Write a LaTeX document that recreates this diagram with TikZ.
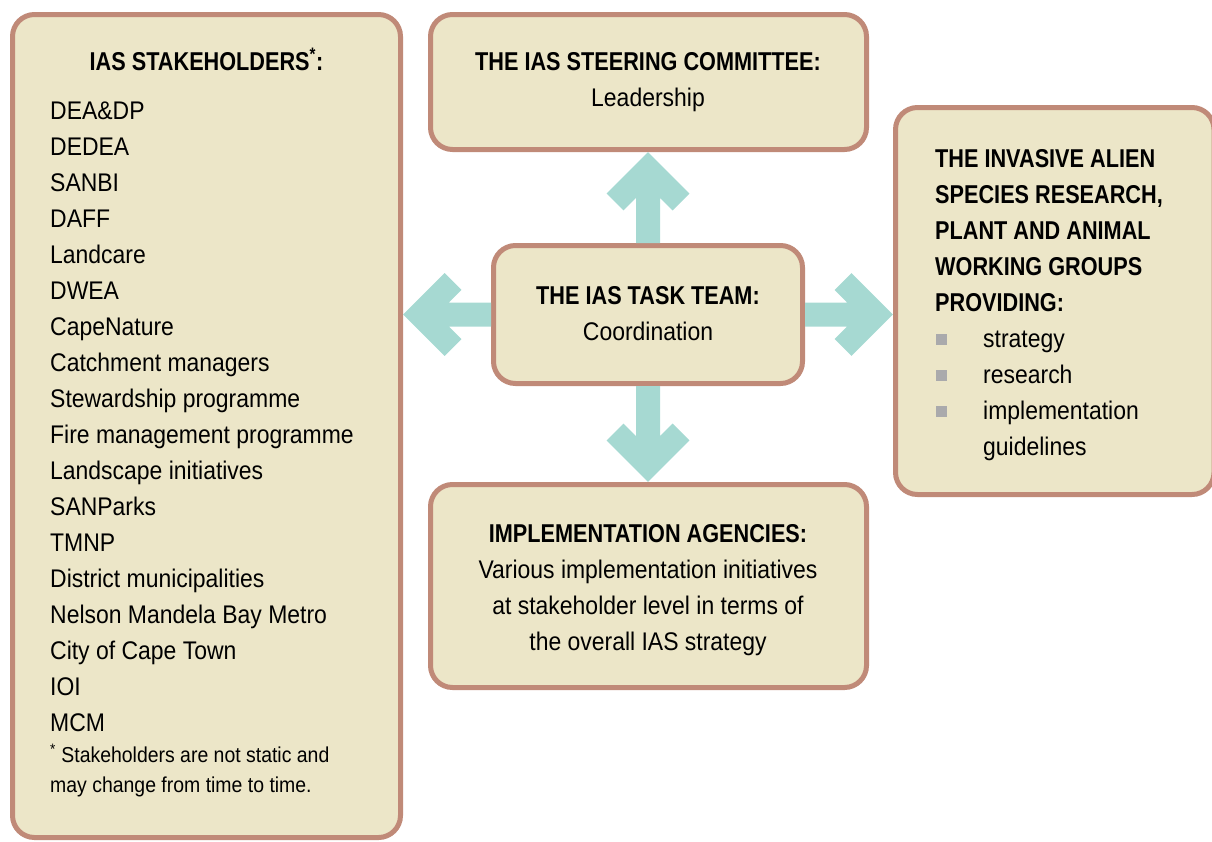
\documentclass[tikz,border=0pt]{standalone}
\usepackage{fontspec}
\setmainfont{Liberation Sans}[FakeStretch=0.9, BoldFeatures={FakeStretch=0.84}]
\usetikzlibrary{calc}
\definecolor{boxfill}{RGB}{236,230,200}
\definecolor{boxline}{RGB}{192,138,120}
\definecolor{flowteal}{RGB}{166,217,210}
\definecolor{bulletgray}{RGB}{170,170,172}
\tikzset{
  panel/.style={
    draw=boxline, fill=boxfill, line width=5pt,
    rounded corners=22pt, inner sep=0pt
  },
  txt/.style={
    font=\fontsize{25.5}{30}\selectfont,
    inner sep=0pt, anchor=base west
  },
  mid/.style={
    font=\fontsize{25.5}{30}\selectfont,
    inner sep=0pt, anchor=base
  },
  head/.style={
    font=\fontsize{25.8}{30}\selectfont\bfseries,
    inner sep=0pt, anchor=base
  },
  note/.style={
    font=\fontsize{21.6}{26}\selectfont,
    inner sep=0pt, anchor=base west
  },
  bulletsq/.style={fill=bulletgray, minimum size=11pt, inner sep=0pt},
  flow/.style={
    draw=flowteal, line width=24pt, line join=miter,
    to path={(\tikztostart) -- ($(\tikztotarget)!17pt!(\tikztostart)$)
      ($(\tikztotarget)!50pt!(\tikztostart)!33pt!90:(\tikztostart)$)
      -- ($(\tikztotarget)!17pt!(\tikztostart)$)
      -- ($(\tikztotarget)!50pt!(\tikztostart)!33pt!-90:(\tikztostart)$)}
  }
}

\begin{document}
\begin{tikzpicture}[x=1pt, y=-1pt]
    \useasboundingbox (0,0) rectangle (1212,841);

    % the five boxes
    \node[panel, minimum width=388pt, minimum height=823pt] (stake) at (206.5,426) {};
    \node[panel, minimum width=436pt, minimum height=135pt] (steer) at (648.5,82) {};
    \node[panel, minimum width=309pt, minimum height=138pt] (task) at (648,314.5) {};
    \node[panel, minimum width=436pt, minimum height=203pt] (impl) at (648.5,586) {};
    \node[panel, minimum width=318.5pt, minimum height=387pt] (groups) at (1054.75,301) {};

    % stakeholders
    \node[head] (stakeT) at (206.5,70) {IAS STAKEHOLDERS\textsuperscript{*}:};
    \foreach \org [count=\k] in {DEA\&DP, DEDEA, SANBI, DAFF, Landcare, DWEA,
        CapeNature, Catchment managers, Stewardship programme,
        Fire management programme, Landscape initiatives, SANParks, TMNP,
        District municipalities, Nelson Mandela Bay Metro, City of Cape Town,
        IOI, MCM}
        \node[txt] (s\k) at (50,83+36*\k) {\org};
    \node[note] (noteA) at (50,762) {\textsuperscript{*} Stakeholders are not static and};
    \node[note] (noteB) at (50,792) {may change from time to time.};

    % steering committee
    \node[head] (steerT) at (648,70) {THE IAS STEERING COMMITTEE:};
    \node[mid] (steerL) at (648,106) {Leadership};

    % task team
    \node[head] (taskT) at (648,304) {THE IAS TASK TEAM:};
    \node[mid] (taskL) at (648,340) {Coordination};

    % implementation
    \node[head] (implT) at (648,542) {IMPLEMENTATION AGENCIES:};
    \foreach \line [count=\k] in {Various implementation initiatives,
        at stakeholder level in terms of, the overall IAS strategy}
        \node[mid] (i\k) at (648,542+36*\k) {\line};

    % working groups
    \foreach \line [count=\k] in {THE INVASIVE ALIEN, {SPECIES RESEARCH,},
        PLANT AND ANIMAL, WORKING GROUPS, PROVIDING:}
        \node[head, anchor=base west] (g\k) at (935,131+36*\k) {\line};
    \foreach \line [count=\k] in {strategy, research, implementation}
    {
        \node[bulletsq] (b\k) at (941,303+36*\k) {};
        \node[txt] (r\k) at (983,311+36*\k) {\line};
    }
    \node[txt] (r4) at (983,455) {guidelines};

    % arrows out of the task team
    \draw[flow] (task.north) to (task.north |- steer.south);
    \draw[flow] (task.south) to (task.south |- impl.north);
    \draw[flow] (task.west) to (task.west -| stake.east);
    \draw[flow] (task.east) to (task.east -| groups.west);
\end{tikzpicture}
\end{document}
